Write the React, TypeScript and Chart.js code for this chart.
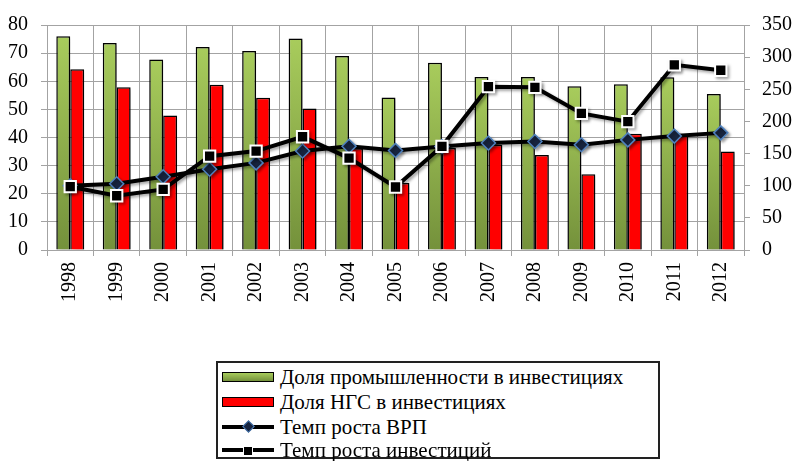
import React, { useEffect, useRef } from "react";
import { Chart, registerables } from "chart.js";

Chart.register(...registerables);

const years = ["1998", "1999", "2000", "2001", "2002", "2003", "2004", "2005", "2006", "2007", "2008", "2009", "2010", "2011", "2012"];
const industryShare = [76, 73.6, 67.7, 72.2, 70.8, 75.2, 69, 54.2, 66.6, 61.5, 61.5, 58.2, 58.9, 61.4, 55.5];
const ngsShare = [64.3, 57.9, 47.8, 58.8, 54.1, 50.3, 36.2, 23.8, 36.3, 37.4, 33.8, 26.9, 41.3, 40.9, 35];
const grpGrowth = [100, 103, 114, 125.6, 135.5, 153.9, 161.3, 154.9, 161, 166.3, 168.8, 163.8, 171.3, 177.2, 182.2];
const investGrowth = [98.5, 84.4, 94.3, 146, 153.9, 176.2, 143, 98, 161.3, 254, 253, 212.5, 199.6, 288, 279.6];

const legendLabels = [
  "Доля промышленности в инвестициях",
  "Доля НГС в инвестициях",
  "Темп роста ВРП",
  "Темп роста инвестиций",
];

const FONT = '"Liberation Serif"';
const GRID = "#a3a3a3";

const shadowPlugin = {
  id: "shadowPlugin",
  beforeDatasetDraw(chart: any) {
    const ctx = chart.ctx;
    ctx.save();
    ctx.shadowColor = "rgba(0,0,0,0.35)";
    ctx.shadowBlur = 3;
    ctx.shadowOffsetX = 2;
    ctx.shadowOffsetY = 2;
  },
  afterDatasetDraw(chart: any) {
    chart.ctx.restore();
  },
};

function greenFill(context: any) {
  const chart = context.chart;
  const area = chart.chartArea;
  if (!area || !chart.scales || !chart.scales.y || context.parsed == null) return "#8db04b";
  const yTop = chart.scales.y.getPixelForValue(context.parsed.y);
  const yBot = chart.scales.y.getPixelForValue(0);
  if (!isFinite(yTop) || !isFinite(yBot) || yBot - yTop < 1) return "#8db04b";
  const g = chart.ctx.createLinearGradient(0, yTop, 0, yBot);
  g.addColorStop(0, "#a8cc5c");
  g.addColorStop(1, "#74913b");
  return g;
}

export default function App() {
  const ref = useRef<HTMLCanvasElement | null>(null);

  useEffect(() => {
    if (!ref.current) return;
    const chart = new Chart(ref.current, {
      type: "bar",
      data: {
        labels: years,
        datasets: [
          {
            type: "line",
            label: legendLabels[3],
            data: investGrowth,
            yAxisID: "y1",
            borderColor: "#000",
            borderWidth: 4,
            pointStyle: "rect",
            pointRadius: 8,
            pointBackgroundColor: "#000",
            pointBorderColor: "#fff",
            pointBorderWidth: 2,
            order: 0,
          } as any,
          {
            type: "line",
            label: legendLabels[2],
            data: grpGrowth,
            yAxisID: "y1",
            borderColor: "#000",
            borderWidth: 4,
            pointStyle: "rectRot",
            pointRadius: 7,
            pointBackgroundColor: "#17243f",
            pointBorderColor: "#4f81bd",
            pointBorderWidth: 1.5,
            order: 1,
          } as any,
          {
            label: legendLabels[0],
            data: industryShare,
            yAxisID: "y",
            backgroundColor: greenFill,
            borderColor: "#000",
            borderWidth: 1.5,
            categoryPercentage: 0.6,
            barPercentage: 1,
            order: 2,
          },
          {
            label: legendLabels[1],
            data: ngsShare,
            yAxisID: "y",
            backgroundColor: "#ff0000",
            borderColor: "#000",
            borderWidth: 1.5,
            categoryPercentage: 0.6,
            barPercentage: 1,
            order: 3,
          },
        ],
      },
      options: {
        animation: false,
        responsive: false,
        maintainAspectRatio: false,
        font: { family: FONT },
        layout: { padding: { top: 15, left: 0, right: 0, bottom: 0 } },
        plugins: { legend: { display: false }, tooltip: { enabled: false } },
        scales: {
          x: {
            offset: true,
            grid: { color: GRID, lineWidth: 1, offset: true, tickLength: 6, drawTicks: true },
            border: { color: GRID, width: 1 },
            ticks: {
              color: "#000",
              font: { family: FONT, size: 20 },
              minRotation: 90,
              maxRotation: 90,
              padding: 6,
              autoSkip: false,
            },
            afterFit(scale: any) {
              scale.height = 211;
            },
          },
          y: {
            position: "left",
            min: 0,
            max: 80,
            grid: { color: GRID, lineWidth: 1, tickLength: 6 },
            border: { color: GRID, width: 1 },
            ticks: { stepSize: 10, color: "#000", font: { family: FONT, size: 20 }, padding: 13 },
            afterFit(scale: any) {
              scale.width = 47;
            },
          },
          y1: {
            position: "right",
            min: 0,
            max: 350,
            grid: { drawOnChartArea: false, color: GRID, lineWidth: 1, tickLength: 6 },
            border: { color: GRID, width: 1 },
            ticks: { stepSize: 50, color: "#000", font: { family: FONT, size: 20 }, padding: 12 },
            afterFit(scale: any) {
              scale.width = 55;
            },
          },
        },
      } as any,
      plugins: [shadowPlugin],
    });
    return () => chart.destroy();
  }, []);

  const rowTops = [365, 390, 414.5, 438];
  const textStyle: React.CSSProperties = {
    position: "absolute",
    left: 64,
    top: 0,
    fontFamily: FONT,
    fontSize: 21,
    lineHeight: "24px",
    color: "#000",
    whiteSpace: "nowrap",
  };

  const symbol = (i: number) => {
    if (i === 0) {
      return (
        <div style={{ position: "absolute", left: 6, top: 7, width: 52, height: 10, boxSizing: "border-box", border: "1.5px solid #000", background: "linear-gradient(#a8cc5c, #74913b)" }} />
      );
    }
    if (i === 1) {
      return (
        <div style={{ position: "absolute", left: 6, top: 7, width: 52, height: 10, boxSizing: "border-box", border: "1.5px solid #000", background: "#ff0000" }} />
      );
    }
    return (
      <div style={{ position: "absolute", left: 6, top: 10, width: 52, height: 4 }}>
        <div style={{ position: "absolute", left: 0, top: 0, width: 52, height: 4, background: "#000" }} />
        {i === 2 ? (
          <div style={{ position: "absolute", left: 22, top: -3, width: 7, height: 7, background: "#17243f", border: "1.5px solid #4f81bd", transform: "rotate(45deg)" }} />
        ) : (
          <div style={{ position: "absolute", left: 21, top: -2, width: 8, height: 8, background: "#000", border: "1px solid #fff" }} />
        )}
      </div>
    );
  };

  return (
    <div style={{ position: "fixed", left: 0, top: 0, width: 799, height: 461, background: "#fff", overflow: "hidden" }}>
      <canvas ref={ref} width={799} height={461} style={{ position: "absolute", left: 0, top: 0, width: 799, height: 461 }} />
      <div style={{ position: "absolute", left: 216, top: 361, width: 444, height: 98, boxSizing: "border-box", border: "2px solid #222", background: "#fff" }} />
      {legendLabels.map((label, i) => (
        <div key={label} style={{ position: "absolute", left: 216, top: rowTops[i], width: 440, height: 24 }}>
          {symbol(i)}
          <span style={textStyle}>{label}</span>
        </div>
      ))}
    </div>
  );
}
